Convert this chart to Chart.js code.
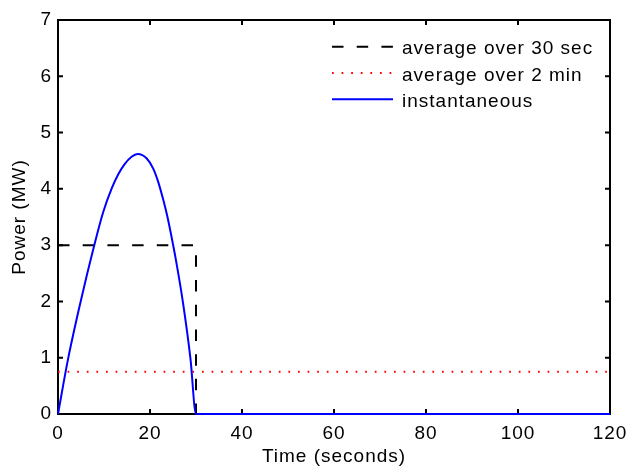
<!DOCTYPE html>
<html>
<head>
<meta charset="utf-8">
<script src="https://cdn.jsdelivr.net/npm/chart.js@4/dist/chart.umd.min.js"></script>
<style>
  html, body { margin: 0; padding: 0; background: #fff; }
  #wrap { width: 628px; height: 470px; }
</style>
</head>
<body>
<div id="wrap"><canvas id="c" width="628" height="470"></canvas></div>
<script>
// ---- data ----
const instTime  = [0, 2.17, 4.93, 7.8, 9.8, 11.74, 13.1, 14.49, 16.0, 17.3, 19.3, 20.7, 21.8, 22.9, 23.8, 24.7, 25.65, 27.17, 28.8, 30, 120];
const instPower = [0, 0.97, 2.0, 2.97, 3.58, 4.02, 4.26, 4.44, 4.57, 4.62, 4.54, 4.36, 4.12, 3.80, 3.50, 3.14, 2.73, 1.98, 0.98, 0, 0];
const avg30Time  = [0, 30, 30, 120];
const avg30Power = [3, 3, 0, 0];
const avg2mTime  = [0, 120];
const avg2mPower = [0.75, 0.75];
const seriesLabels = ['average over 30 sec', 'average over 2 min', 'instantaneous'];
const xTicks = [0, 20, 40, 60, 80, 100, 120];
const yTicks = [0, 1, 2, 3, 4, 5, 6, 7];
const xTitle = 'Time (seconds)';
const yTitle = 'Power (MW)';

const pts = (xs, ys) => xs.map((x, i) => ({ x: x, y: ys[i] }));

const FONT = 'Liberation Sans, Arial, Helvetica, sans-serif';
const FS = 19;
Chart.defaults.color = '#000';
Chart.defaults.font.family = FONT;
Chart.defaults.font.size = FS;

function setSpacing(chart) { chart.ctx.letterSpacing = '1px'; }

const framePlugin = {
  id: 'frame',
  afterInit: setSpacing,
  beforeUpdate: setSpacing,
  beforeLayout: setSpacing,
  beforeDraw: setSpacing,
  beforeDatasetsDraw(chart) {
    const { ctx, chartArea: a, scales } = chart;
    ctx.save();
    ctx.strokeStyle = '#000';
    ctx.lineWidth = 2;
    ctx.setLineDash([]);
    ctx.strokeRect(a.left, a.top, a.right - a.left, a.bottom - a.top);
    const L = 5;
    ctx.beginPath();
    scales.x.ticks.forEach(t => {
      const px = scales.x.getPixelForValue(t.value);
      ctx.moveTo(px, a.bottom); ctx.lineTo(px, a.bottom - L);
      ctx.moveTo(px, a.top); ctx.lineTo(px, a.top + L);
    });
    scales.y.ticks.forEach(t => {
      const py = scales.y.getPixelForValue(t.value);
      ctx.moveTo(a.left, py); ctx.lineTo(a.left + L, py);
      ctx.moveTo(a.right, py); ctx.lineTo(a.right - L, py);
    });
    ctx.stroke();
    ctx.restore();
  },
  afterDatasetsDraw(chart) {
    const ctx = chart.ctx;
    ctx.save();
    ctx.letterSpacing = '1px';
    const x0 = 332, x1 = 393, tx = 402, y0 = 46.7, dy = 26.3;
    chart.data.datasets.forEach((ds, i) => {
      const y = y0 + i * dy;
      ctx.beginPath();
      ctx.strokeStyle = ds.borderColor;
      ctx.lineWidth = ds.borderWidth;
      ctx.setLineDash(ds.borderDash || []);
      ctx.lineDashOffset = 0;
      ctx.moveTo(x0, y); ctx.lineTo(x1, y);
      ctx.stroke();
      ctx.setLineDash([]);
      ctx.fillStyle = '#000';
      ctx.font = FS + 'px ' + FONT;
      ctx.textAlign = 'left';
      ctx.textBaseline = 'alphabetic';
      ctx.fillText(ds.label, tx, y + 7.5);
    });
    ctx.restore();
  }
};

new Chart(document.getElementById('c'), {
  type: 'line',
  data: {
    datasets: [
      {
        label: seriesLabels[0],
        data: pts(avg30Time, avg30Power),
        borderColor: '#000000',
        borderWidth: 2,
        borderDash: [11.5, 13.2],
        pointRadius: 0,
        fill: false,
        tension: 0,
        order: 1,
        clip: false
      },
      {
        label: seriesLabels[1],
        data: pts(avg2mTime, avg2mPower),
        borderColor: '#ff0000',
        borderWidth: 2,
        borderDash: [1.7, 7.9],
        pointRadius: 0,
        fill: false,
        tension: 0,
        order: 2,
        clip: false
      },
      {
        label: seriesLabels[2],
        data: pts(instTime, instPower),
        borderColor: '#0000ff',
        borderWidth: 2,
        pointRadius: 0,
        fill: false,
        cubicInterpolationMode: 'monotone',
        order: 0,
        clip: false
      }
    ]
  },
  options: {
    responsive: false,
    animation: false,
    devicePixelRatio: 1,
    layout: { padding: { left: 0, right: 18, top: 20, bottom: 0 } },
    plugins: { legend: { display: false }, tooltip: { enabled: false } },
    scales: {
      x: {
        type: 'linear',
        min: 0, max: 120,
        afterBuildTicks: s => { s.ticks = xTicks.map(v => ({ value: v })); },
        afterFit: s => { s.height = 56; s.paddingLeft = 0; s.paddingRight = 0; },
        grid: { display: false, drawTicks: false },
        border: { display: false },
        ticks: { padding: 8, color: '#000', font: { size: FS, family: FONT } },
        title: { display: true, text: xTitle, color: '#000', font: { size: FS, family: FONT }, padding: { top: 0, bottom: 2 } }
      },
      y: {
        type: 'linear',
        min: 0, max: 7,
        afterBuildTicks: s => { s.ticks = yTicks.map(v => ({ value: v })); },
        afterFit: s => { s.width = 58; s.paddingTop = 0; s.paddingBottom = 0; },
        grid: { display: false, drawTicks: false },
        border: { display: false },
        ticks: { padding: 6, color: '#000', font: { size: FS, family: FONT } },
        title: { display: true, text: yTitle, color: '#000', font: { size: FS, family: FONT }, padding: { top: 8, bottom: 0 } }
      }
    }
  },
  plugins: [framePlugin]
});
</script>
</body>
</html>
